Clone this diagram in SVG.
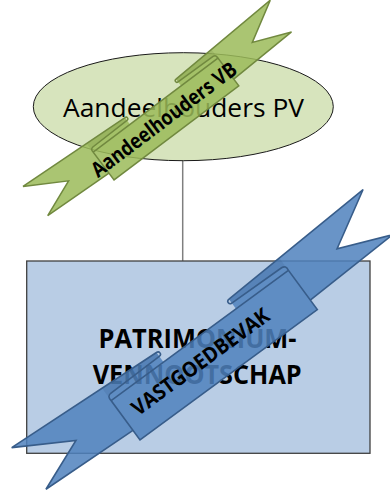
<svg xmlns="http://www.w3.org/2000/svg" width="390" height="493" viewBox="0 0 390 493">
  <style>
    .lbl { font-family: "Open Sans", "Liberation Sans", sans-serif; fill: #000; }
    .bold { font-weight: bold; }
    .rib-fill { stroke: none; }
    .green .rib-fill { fill: #9bbb59; fill-opacity: 0.85; }
    .green .rib-line { fill: none; stroke: #71893f; stroke-width: 2.1; stroke-linejoin: miter; }
    .green .rib-fold { fill: #71893f; fill-opacity: 0.2; stroke: none; }
    .blue .rib-fill { fill: #4f81bd; fill-opacity: 0.85; }
    .blue .rib-line { fill: none; stroke: #385d8a; stroke-width: 1.6; stroke-linejoin: miter; }
    .blue .rib-fold { fill: #385d8a; fill-opacity: 0.2; stroke: none; }
  </style>
  <defs>
    <path id="ribSil" d="M -110,-24.4 H 110 V 24.4 H -110 Z
      M 45,-36.3 L 218,-45.3 L 162,-13 L 215,8.5 L 110,12.5 L 45,12.5 Z
      M -218,-45.3 L -45,-36.3 L -45,12.5 L -110,12.5 L -215,8.5 L -162,-13 Z"/>
    <path id="ribFold" d="M 45,-36.3 L 110,-39.7 L 110,-30.5 L 45,-31.5 Z
      M -45,-36.3 L -110,-39.7 L -110,-30.5 L -45,-31.5 Z"/>
    <path id="ribLine" d="M 110,12.5 L 215,8.5 L 162,-13 L 218,-45.3 L 45,-36.3 A 2.6 2.4 0 0 0 45,-31.5 L 106,-30.5 Q 111,-30 110,-24.4
      M -110,12.5 L -215,8.5 L -162,-13 L -218,-45.3 L -45,-36.3 A 2.6 2.4 0 0 1 -45,-31.5 L -106,-30.5 Q -111,-30 -110,-24.4
      M -110,-24.4 H 110 V 24.4 H -110 Z"/>
  </defs>

  <g id="connectors">
    <line x1="182.7" y1="160.7" x2="182.7" y2="261" stroke="#7f7f7f" stroke-width="1.5"/>
  </g>

  <g id="node-aandeelhouders-pv">
    <ellipse cx="183.3" cy="106.7" rx="150" ry="54" fill="#d7e4bd" stroke="#1a1a1a" stroke-width="1"/>
    <text class="lbl" x="183.5" y="117" font-size="26" text-anchor="middle" textLength="241" lengthAdjust="spacingAndGlyphs">Aandeelhouders PV</text>
  </g>

  <g id="node-patrimonium">
    <rect x="26.7" y="261" width="343.3" height="192.3" fill="#b9cde5" stroke="#404040" stroke-width="1.3"/>
    <text class="lbl bold" x="197.5" y="348.3" font-size="26" text-anchor="middle" textLength="198" lengthAdjust="spacingAndGlyphs">PATRIMONIUM-</text>
    <text class="lbl bold" x="197.2" y="384" font-size="26" text-anchor="middle" textLength="209" lengthAdjust="spacingAndGlyphs">VENNOOTSCHAP</text>
  </g>

  <g id="ribbon-aandeelhouders-vb" class="green">
    <g transform="translate(166,119) rotate(-37) scale(0.71)">
      <use href="#ribSil" class="rib-fill"/>
      <use href="#ribFold" class="rib-fold"/>
      <use href="#ribLine" class="rib-line"/>
    </g>
    <text class="lbl bold" transform="translate(166,119) rotate(-37)" x="-2" y="6.5" font-size="21" text-anchor="middle" textLength="176" lengthAdjust="spacingAndGlyphs">Aandeelhouders VB</text>
  </g>

  <g id="ribbon-vastgoedbevak" class="blue">
    <g transform="translate(214.2,355.1) rotate(-36.3)">
      <use href="#ribSil" class="rib-fill"/>
      <use href="#ribFold" class="rib-fold"/>
      <use href="#ribLine" class="rib-line"/>
    </g>
    <text class="lbl bold" transform="translate(214.2,355.1) rotate(-36.3)" x="-15" y="4.5" font-size="21" text-anchor="middle" textLength="165" lengthAdjust="spacingAndGlyphs">VASTGOEDBEVAK</text>
  </g>
</svg>
